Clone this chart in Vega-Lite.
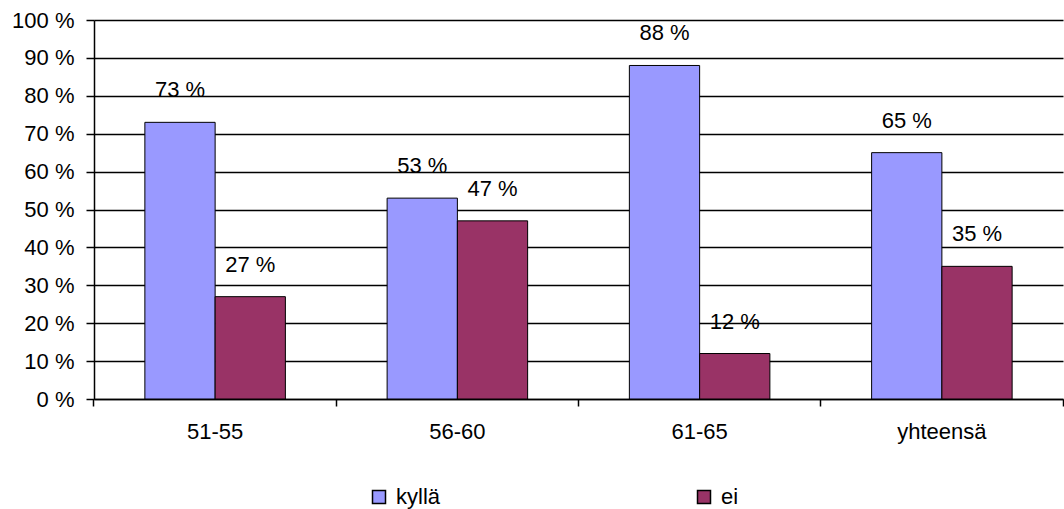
{
  "$schema": "https://vega.github.io/schema/vega-lite/v6.json",
  "width": 969,
  "height": 379,
  "autosize": "none",
  "padding": {"left": 94, "top": 20, "right": 1, "bottom": 110},
  "background": "white",
  "config": {
    "font": "Liberation Sans",
    "view": {"stroke": null}
  },
  "data": {
    "values": [
      {"ika": "51-55", "vastaus": "kyllä", "osuus": 73},
      {"ika": "51-55", "vastaus": "ei", "osuus": 27},
      {"ika": "56-60", "vastaus": "kyllä", "osuus": 53},
      {"ika": "56-60", "vastaus": "ei", "osuus": 47},
      {"ika": "61-65", "vastaus": "kyllä", "osuus": 88},
      {"ika": "61-65", "vastaus": "ei", "osuus": 12},
      {"ika": "yhteensä", "vastaus": "kyllä", "osuus": 65},
      {"ika": "yhteensä", "vastaus": "ei", "osuus": 35}
    ]
  },
  "transform": [
    {"calculate": "datum.osuus + ' %'", "as": "teksti"}
  ],
  "encoding": {
    "xOffset": {
      "field": "vastaus",
      "sort": ["kyllä", "ei"],
      "scale": {"paddingInner": 0, "paddingOuter": 0}
    },
    "y": {
      "field": "osuus",
      "type": "quantitative",
      "scale": {"domain": [0, 100]},
      "axis": {
        "title": null,
        "values": [0, 10, 20, 30, 40, 50, 60, 70, 80, 90, 100],
        "labelExpr": "datum.value + ' %'",
        "grid": true,
        "gridColor": "black",
        "gridWidth": 1.5,
        "gridOpacity": 1,
        "domainColor": "black",
        "domainWidth": 1.5,
        "tickColor": "black",
        "tickWidth": 1.5,
        "tickSize": 8,
        "labelPadding": 12,
        "labelFontSize": 22,
        "labelColor": "black"
      }
    }
  },
  "layer": [
    {
      "mark": {"type": "bar", "stroke": "black", "strokeWidth": 1},
      "encoding": {
        "x": {
          "field": "ika",
          "type": "nominal",
          "sort": ["51-55", "56-60", "61-65", "yhteensä"],
          "scale": {"paddingInner": 0.42, "paddingOuter": 0.21},
          "axis": {
            "title": null,
            "orient": "bottom",
            "labelAngle": 0,
            "bandPosition": 1.363,
            "tickSize": 7,
            "tickColor": "black",
            "tickWidth": 1.5,
            "domainColor": "black",
            "domainWidth": 1.5,
            "labelPadding": 15,
            "labelFontSize": 22,
            "labelColor": "black"
          }
        },
        "color": {
          "field": "vastaus",
          "type": "nominal",
          "scale": {"domain": ["kyllä", "ei"], "range": ["#9999FF", "#993366"]},
          "legend": {
            "title": null,
            "orient": "none",
            "direction": "horizontal",
            "legendX": 274,
            "legendY": 466,
            "symbolType": "square",
            "symbolSize": 169,
            "symbolStrokeColor": "black",
            "symbolStrokeWidth": 1.5,
            "symbolOpacity": 1,
            "labelFontSize": 22,
            "labelColor": "black",
            "labelOffset": 6,
            "columnPadding": 252
          }
        }
      }
    },
    {
      "mark": {"type": "text", "baseline": "alphabetic", "dy": -25, "fontSize": 22, "color": "black"},
      "encoding": {
        "x": {
          "field": "ika",
          "type": "nominal",
          "sort": ["51-55", "56-60", "61-65", "yhteensä"],
          "axis": {
            "title": null,
            "orient": "bottom",
            "values": ["51-55"],
            "bandPosition": -0.363,
            "labels": false,
            "domain": false,
            "tickSize": 7,
            "tickColor": "black",
            "tickWidth": 1.5
          }
        },
        "text": {"field": "teksti"}
      }
    }
  ],
  "resolve": {"axis": {"x": "independent"}}
}
